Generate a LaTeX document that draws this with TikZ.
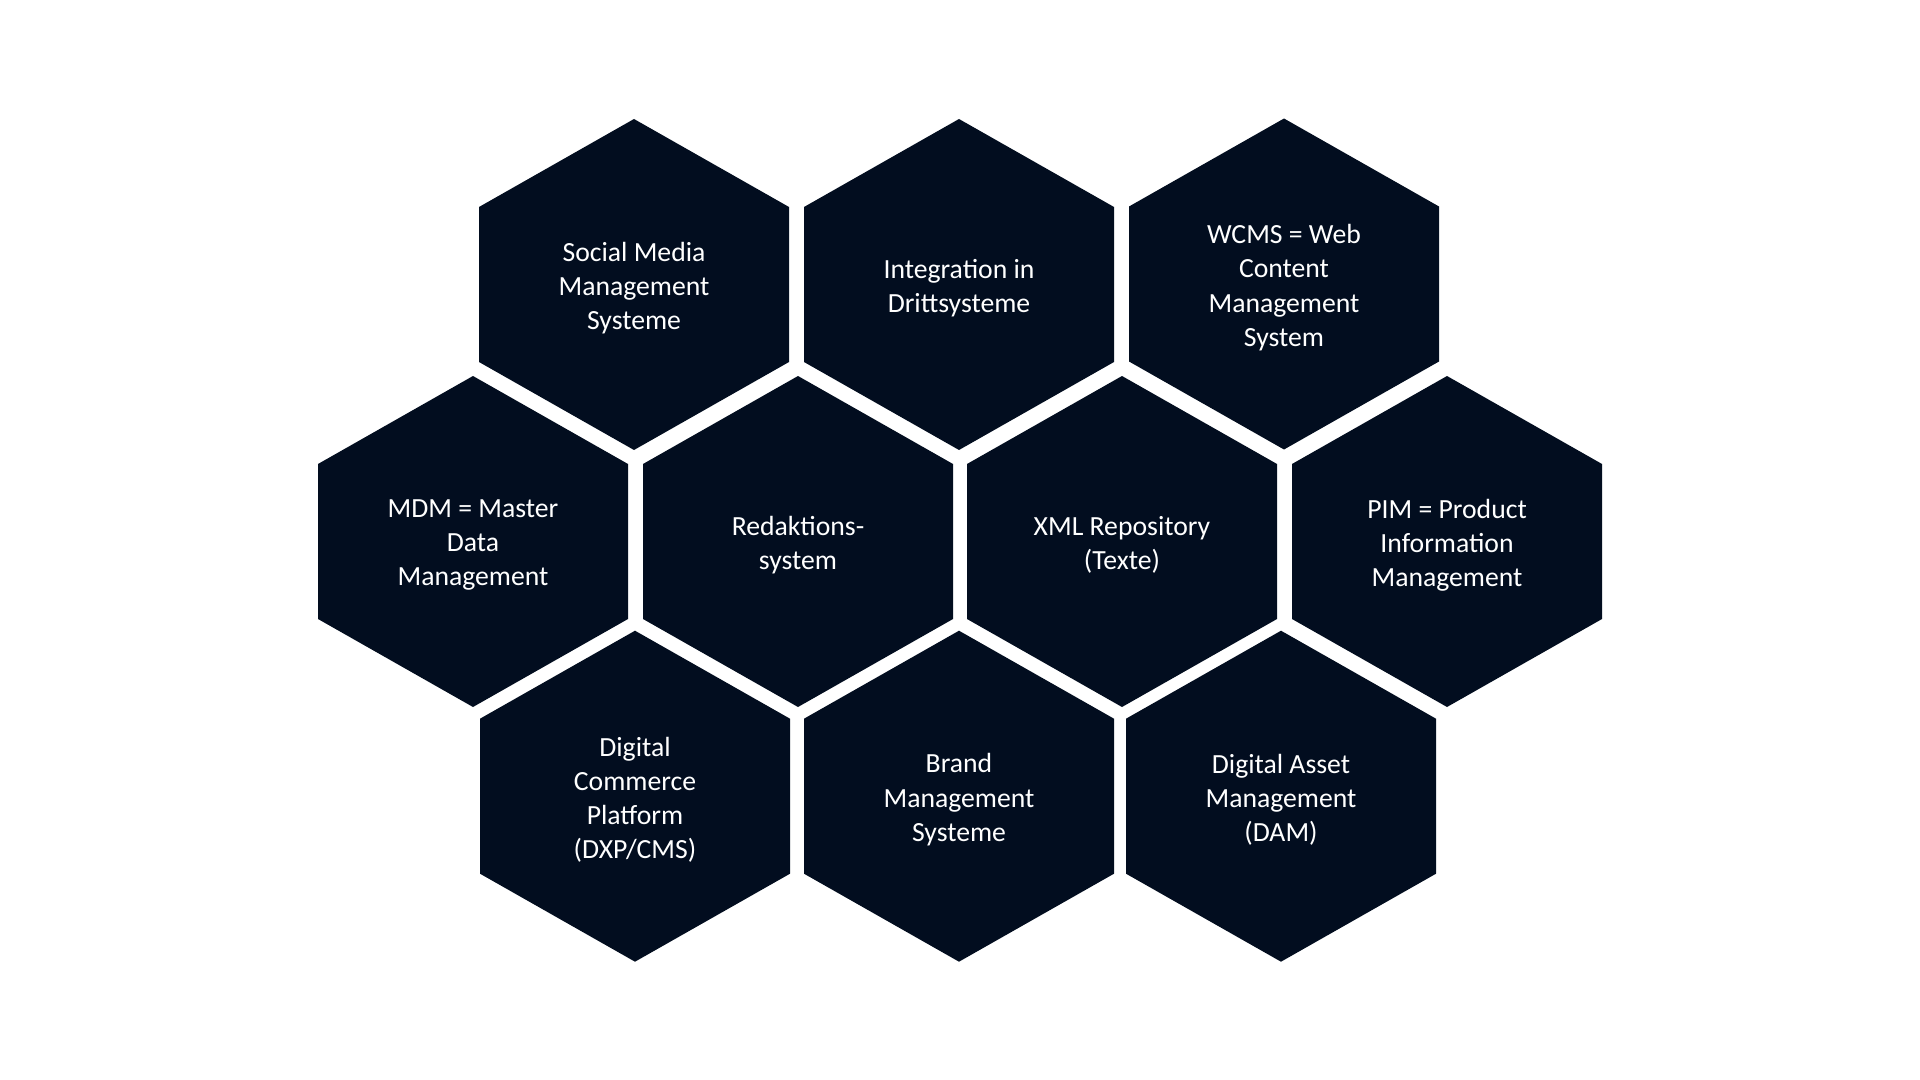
\documentclass[tikz,border=0pt]{standalone}
\usepackage{fontspec}
\setmainfont{Carlito}
\usetikzlibrary{positioning}

\definecolor{hexnavy}{RGB}{2,13,31}

\tikzset{
  hexcell/.style={fill=hexnavy},
  hexlabel/.style={text=white, align=center, inner sep=0pt, yshift=-1.8pt}
}

\begin{document}
\begin{tikzpicture}[x=0.5pt, y=-0.5pt, font=\fontsize{13.85}{17.1}\selectfont]

% Page frame
\useasboundingbox (0,0) rectangle (1920,1080);

% Honeycomb cells with their labels
\foreach \x/\y/\name/\txt in {
    634/284.5/social/{Social Media\\Management\\Systeme},
    959/284.5/integration/{Integration in\\Drittsysteme},
    1284/284/wcms/{WCMS = Web\\Content\\Management\\System},
    473/541.5/mdm/{MDM = Master\\Data\\Management},
    798/541.5/redaktion/{Redaktions-\\system},
    1122/541.5/xml/{XML Repository\\(Texte)},
    1447/541.5/pim/{PIM = Product\\Information\\Management},
    635/796.2/commerce/{Digital\\Commerce\\Platform\\(DXP/CMS)},
    959/796.2/brand/{Brand\\Management\\Systeme},
    1281/796.2/dam/{Digital Asset\\Management\\(DAM)}} {
    \fill[hexcell] (\x,\y) ++(0,-165.5) -- ++(155,88) -- ++(0,155)
        -- ++(-155,88) -- ++(-155,-88) -- ++(0,-155) -- cycle;
    \node[hexlabel] (\name) at (\x,\y) {\txt};
}

\end{tikzpicture}
\end{document}
